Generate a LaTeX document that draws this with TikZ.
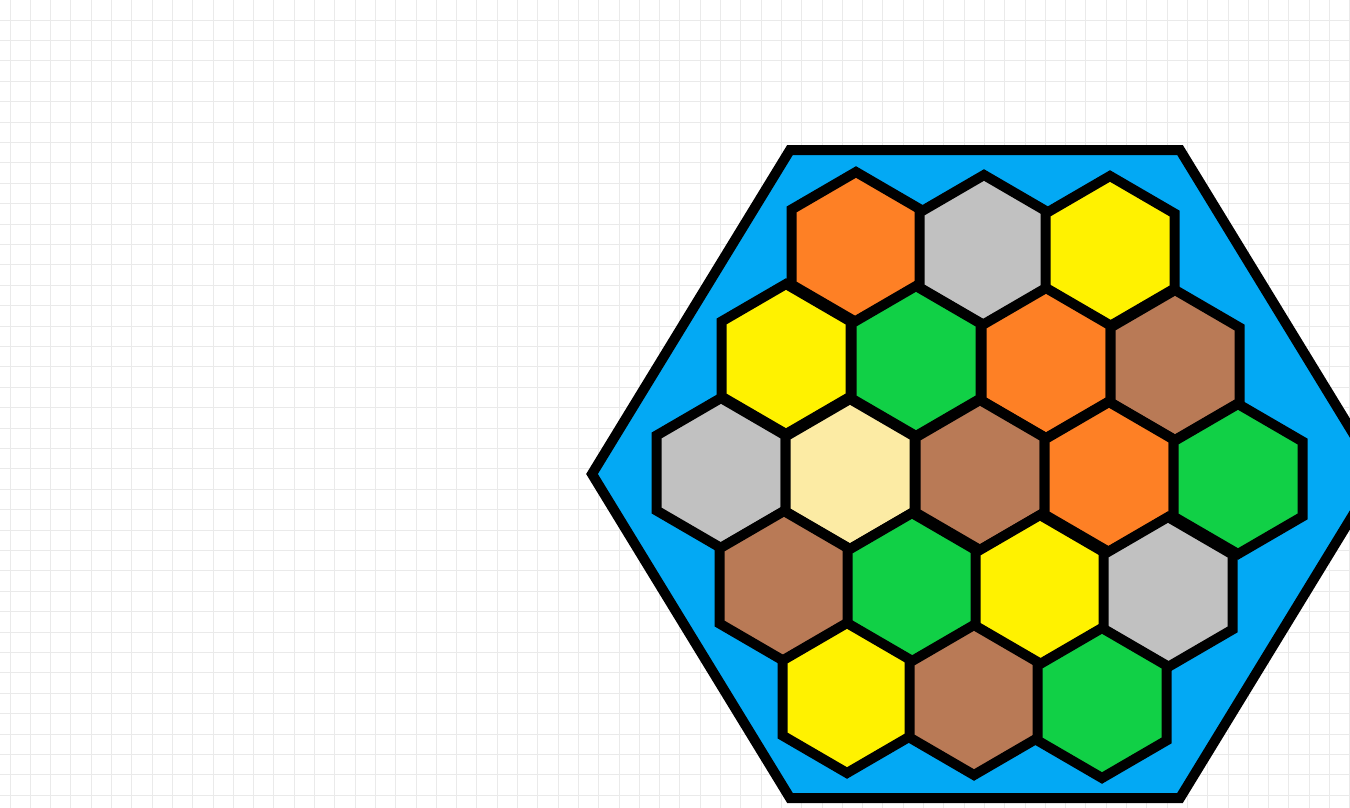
\documentclass[tikz,border=0pt]{standalone}
\usetikzlibrary{calc}

\definecolor{sea}{RGB}{3,169,244}
\definecolor{ore}{RGB}{254,128,37}
\definecolor{stone}{RGB}{193,193,193}
\definecolor{wheat}{RGB}{255,242,0}
\definecolor{wood}{RGB}{17,208,70}
\definecolor{clay}{RGB}{185,122,86}
\definecolor{sand}{RGB}{252,235,164}
\definecolor{gridgray}{RGB}{234,234,234}

\begin{document}
\begin{tikzpicture}[x=0.02cm, y=-0.02cm,
  gridline/.style={draw=gridgray, line width=0.02cm},
  frame/.style={draw=black, fill=sea, line width=0.2cm, line join=miter},
  tile/.style={draw=black, line width=0.2cm, line join=miter}]

\useasboundingbox (0,0) rectangle (1350,808);
\clip (0,0) rectangle (1350,808);
\fill[white] (0,0) rectangle (1350,808);

% background grid
\foreach \i in {0,...,66}
  \draw[gridline] ({10+20.3*\i},0) -- ({10+20.3*\i},808);
\foreach \j in {0,...,39}
  \draw[gridline] (0,{20+20.4*\j}) -- (1350,{20+20.4*\j});

% sea frame
\draw[frame] (592,474) -- (790,150) -- (1180,150) -- (1378,474)
  -- (1180,798) -- (790,798) -- cycle;

% land tiles, row by row
\foreach \x/\y/\c in {
    856/247/ore, 984/250/stone, 1110/251/wheat,
    786/359/wheat, 916/361/wood, 1046/363/ore, 1175/365/clay,
    721/473/stone, 850/474/sand, 980/475/clay, 1109/477/ore, 1238/479/wood,
    784/586/clay, 912/588/wood, 1040/590/wheat, 1168/592/stone,
    847/698/wheat, 974/700/clay, 1102/703/wood}
  \draw[tile, fill=\c] (\x,\y) ++(0,-75) -- ++(64.5,37.5) -- ++(0,75)
    -- ++(-64.5,37.5) -- ++(-64.5,-37.5) -- ++(0,-75) -- cycle;

\end{tikzpicture}
\end{document}
